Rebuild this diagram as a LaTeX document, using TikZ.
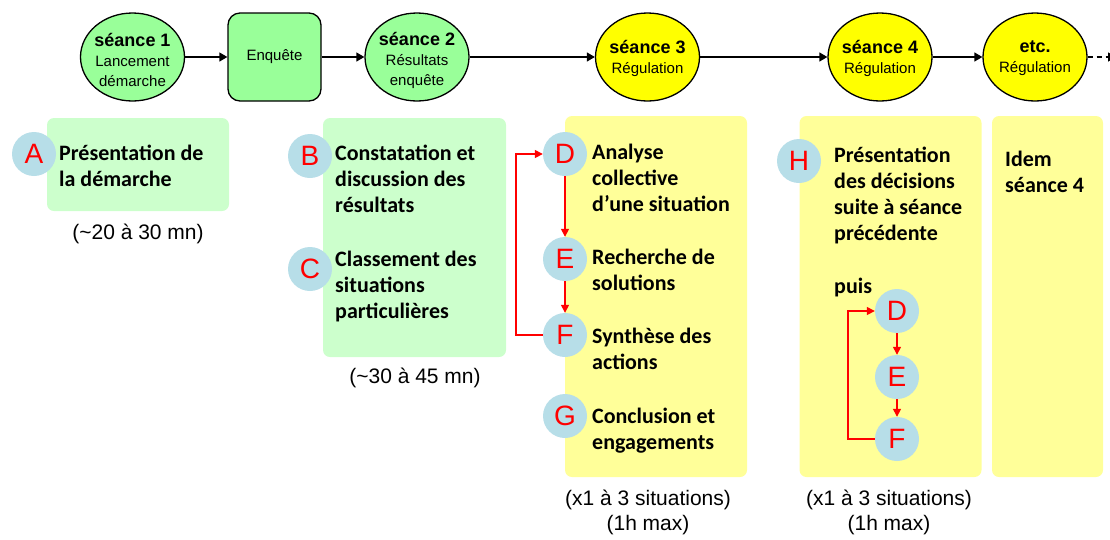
\documentclass[tikz,border=0pt]{standalone}
\usepackage{fontspec}
\setmainfont{Liberation Sans}
\newfontfamily\calfont{Carlito}
\usetikzlibrary{shapes.geometric,arrows.meta}
\definecolor{sgreen}{HTML}{99FF99}
\definecolor{lgreen}{HTML}{CCFFCC}
\definecolor{syellow}{HTML}{FFFF00}
\definecolor{lyellow}{HTML}{FFFF99}
\definecolor{cblue}{HTML}{B7DEE8}
\definecolor{cred}{HTML}{FF0000}
\tikzset{
  seance/.style={ellipse, draw=black, line width=1.3pt, minimum width=104pt, minimum height=88pt, inner sep=0pt},
  setext/.style={inner sep=0pt, align=center, font=\fontsize{15}{20}\selectfont},
  enqbox/.style={rectangle, rounded corners=12pt, draw=black, line width=1.3pt, fill=sgreen, minimum width=93pt, minimum height=88pt, inner sep=0pt, font=\fontsize{15}{18}\selectfont},
  bgbox/.style={rectangle, rounded corners=7pt, inner sep=0pt},
  letter/.style={circle, fill=cblue, minimum size=44pt, inner sep=0pt, text=cred, font=\fontsize{28}{28}\selectfont},
  bodytxt/.style={anchor=base west, inner sep=0pt, align=left, font=\calfont\bfseries\fontsize{22}{26}\selectfont},
  durtxt/.style={anchor=base, inner sep=0pt, align=center, font=\fontsize{21}{25}\selectfont},
  blackarrow/.style={draw=black, line width=1.3pt, -{Triangle[length=8pt,width=9pt]}},
  redarrow/.style={draw=cred, line width=1.4pt, -{Triangle[length=8pt,width=8pt]}},
}
\newcommand{\sehd}[1]{{\bfseries\fontsize{18}{20}\selectfont #1}}
\begin{document}
\begin{tikzpicture}[x=1pt,y=-1pt]
\useasboundingbox (0,0) rectangle (1110,539);
% top row
\node[seance, fill=sgreen] (s1) at (132.5,57) {};
\node[setext] (s1t) at ([yshift=-3pt]s1.center) {\sehd{séance 1}\\Lancement\\démarche};
\node[enqbox] (enq) at (274.5,57) {Enquête};
\node[seance, fill=sgreen] (s2) at (417,57) {};
\node[setext] (s2t) at ([yshift=-3pt]s2.center) {\sehd{séance 2}\\Résultats\\enquête};
\node[seance, fill=syellow] (s3) at (647.5,57) {};
\node[setext] (s3t) at ([yshift=-1pt]s3.center) {\sehd{séance 3}\\Régulation};
\node[seance, fill=syellow] (s4) at (880,57) {};
\node[setext] (s4t) at ([yshift=-1pt]s4.center) {\sehd{séance 4}\\Régulation};
\node[seance, fill=syellow] (s5) at (1035,57) {};
\node[setext] (s5t) at ([yshift=-1pt]s5.center) {\sehd{etc.}\\Régulation};
\coordinate (dashend) at (1116,57);
\draw[blackarrow] (s1) -- (enq);
\draw[blackarrow] (enq) -- (s2);
\draw[blackarrow] (s2) -- (s3);
\draw[blackarrow] (s3) -- (s4);
\draw[blackarrow] (s4) -- (s5);
\draw[blackarrow, dash pattern=on 5pt off 4pt] (s5) -- (dashend);
% background boxes
\node[bgbox, fill=lgreen, minimum width=182pt, minimum height=93pt] (boxA) at (138,164.5) {};
\node[bgbox, fill=lgreen, minimum width=183pt, minimum height=239pt] (boxB) at (414.5,237.5) {};
\node[bgbox, fill=lyellow, minimum width=182pt, minimum height=361pt] (box3) at (656,296.5) {};
\node[bgbox, fill=lyellow, minimum width=182pt, minimum height=361pt] (box4) at (890.5,296.5) {};
\node[bgbox, fill=lyellow, minimum width=111pt, minimum height=361pt] (box5) at (1047.5,296.5) {};
% seance 1 content (base anchor = last line)
\node[letter] (A) at (34,154) {A};
\node[bodytxt] (tA) at (59,186) {Présentation de\\la démarche};
\node[durtxt] (dA) at (138,239) {(\textasciitilde20 à 30 mn)};
% seance 2 content
\node[letter] (B) at (310,156) {B};
\node[bodytxt] (tB) at (335,212) {Constatation et\\discussion des\\résultats};
\node[letter] (C) at (310,269) {C};
\node[bodytxt] (tC) at (335,318) {Classement des\\situations\\particulières};
\node[durtxt] (dB) at (415,383) {(\textasciitilde30 à 45 mn)};
% seance 3 content
\node[letter] (D) at (565,154) {D};
\node[bodytxt] (tD) at (592,211) {Analyse\\collective\\d’une situation};
\node[letter] (E) at (565,259) {E};
\node[bodytxt] (tE) at (592,290) {Recherche de\\solutions};
\node[letter] (F) at (565,335) {F};
\node[bodytxt] (tF) at (592,369) {Synthèse des\\actions};
\node[letter] (G) at (565,416) {G};
\node[bodytxt] (tG) at (592,449) {Conclusion et\\engagements};
\node[durtxt] (d3) at (648,530) {(x1 à 3 situations)\\(1h max)};
\draw[redarrow] (D) -- (E);
\draw[redarrow] (E) -- (F);
\draw[redarrow] (F.west) -- ++(-27,0) |- (D.west);
% seance 4 content
\node[letter] (H) at (799,161) {H};
\node[bodytxt] (tH) at (834,240) {Présentation\\des décisions\\suite à séance\\précédente};
\node[bodytxt] (puis) at (834,293) {puis};
\node[letter] (D2) at (897,311) {D};
\node[letter] (E2) at (897,377) {E};
\node[letter] (F2) at (897,439) {F};
\node[durtxt] (d4) at (889,530) {(x1 à 3 situations)\\(1h max)};
\draw[redarrow] (D2) -- (E2);
\draw[redarrow] (E2) -- (F2);
\draw[redarrow] (F2.west) -- ++(-27,0) |- (D2.west);
% etc content
\node[bodytxt] (t5) at (1005,192) {Idem\\séance 4};
\end{tikzpicture}
\end{document}
